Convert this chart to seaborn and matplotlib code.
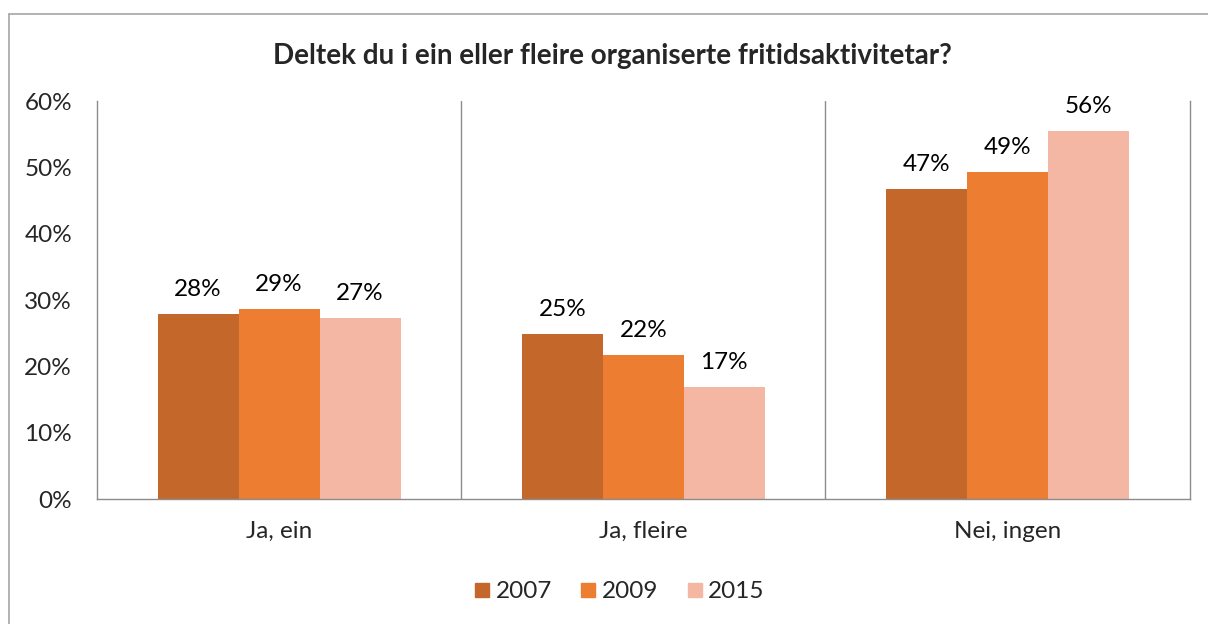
import pandas as pd
import seaborn as sns
import matplotlib.pyplot as plt
from matplotlib.lines import Line2D

categories = ['Ja, ein', 'Ja, fleire', 'Nei, ingen']
years = ['2007', '2009', '2015']
values_2007 = [27.9, 24.9, 46.7]
values_2009 = [28.6, 21.7, 49.3]
values_2015 = [27.3, 16.9, 55.5]
labels_2007 = ['28%', '25%', '47%']
labels_2009 = ['29%', '22%', '49%']
labels_2015 = ['27%', '17%', '56%']
colors = ['#C4672A', '#ED7D31', '#F4B7A4']

rows = []
for year, vals, labs in zip(years, [values_2007, values_2009, values_2015],
                            [labels_2007, labels_2009, labels_2015]):
    for cat, v, lab in zip(categories, vals, labs):
        rows.append({'kategori': cat, 'år': year, 'verdi': v, 'etikett': lab})
df = pd.DataFrame(rows)

sns.set_style('white')
plt.rcParams['font.family'] = ['Lato', 'DejaVu Sans']

fig = plt.figure(figsize=(12.08, 6.24), dpi=100)
ax = fig.add_axes([0.0803, 0.2003, 0.9044, 0.6377])

sns.barplot(data=df, x='kategori', y='verdi', hue='år', palette=colors,
            width=0.667, gap=0, saturation=1, ax=ax, legend=False,
            linewidth=0, edgecolor='none')

for cont, labs in zip(ax.containers, [labels_2007, labels_2009, labels_2015]):
    ax.bar_label(cont, labels=labs, padding=10, fontsize=17.5, color='black')

ax.set_xlim(-0.5, 2.5)
ax.set_ylim(0, 60)
ax.set_yticks(range(0, 61, 10))
ax.set_yticklabels([f'{t}%' for t in range(0, 61, 10)], fontsize=17.5)
ax.tick_params(axis='x', labelsize=17.5, length=0, pad=16)
ax.tick_params(axis='y', length=0, pad=18)
ax.set_xlabel('')
ax.set_ylabel('')

gray = '#8C8C8C'
for side in ['left', 'bottom', 'right']:
    ax.spines[side].set_color(gray)
    ax.spines[side].set_linewidth(1)
ax.spines['top'].set_visible(False)
for x in [0.5, 1.5]:
    ax.axvline(x, color=gray, linewidth=1, zorder=0)

fig.text(0.507, 0.91, 'Deltek du i ein eller fleire organiserte fritidsaktivitetar?',
         ha='center', va='center', fontsize=20, fontweight='bold')

handles = [Line2D([], [], marker='s', linestyle='', markersize=10,
                  markerfacecolor=c, markeredgecolor=c) for c in colors]
fig.legend(handles, years, loc='center', bbox_to_anchor=(0.511, 0.052), ncol=3,
           frameon=False, fontsize=17.5, handletextpad=0.05, columnspacing=1.0,
           handlelength=1.0)

# outer chart frame
fig.add_artist(Line2D([0.0075, 0.0075], [0, 0.978], color='#A6A6A6', linewidth=1.2,
                      transform=fig.transFigure))
fig.add_artist(Line2D([0.0075, 1.0], [0.978, 0.978], color='#A6A6A6', linewidth=1.2,
                      transform=fig.transFigure))

fig.savefig('out.png', dpi=100)
